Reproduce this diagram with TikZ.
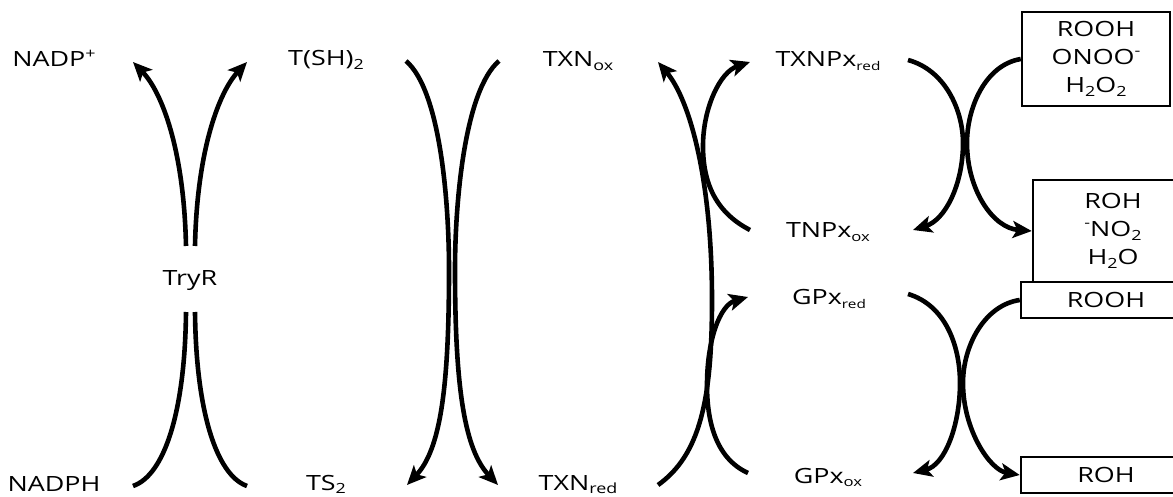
\documentclass[tikz,border=0pt]{standalone}
\usepackage{fontspec}
\setmainfont{Open Sans}[FakeStretch=1.28]
\usetikzlibrary{arrows.meta}
\newcommand\lo[2][14]{\raisebox{-0.18em}{\fontsize{#1}{#1}\selectfont #2}}
\newcommand\hi[1]{\raisebox{0.42em}{\fontsize{14}{14}\selectfont #1}}
\begin{document}
\begin{tikzpicture}[x=1pt,y=-1pt,
 lbl/.style={anchor=base, inner sep=0pt, font=\fontsize{21}{28}\selectfont},
 arr/.style={line width=4.6pt, -{Stealth[length=19pt,width=17pt,inset=4.5pt]}},
 strand/.style={line width=4.6pt},
 boxn/.style={draw, line width=2.5pt, inner sep=0pt, align=center, font=\fontsize{21}{28}\selectfont}]
\useasboundingbox (0,0) rectangle (1173,497);

% labels
\node[lbl] (nadpp) at (54,67) {NADP\hi{+}};
\node[lbl] (tsh) at (326,66) {T(SH)\lo{2}};
\node[lbl] (txnox) at (578,67) {TXN\lo{ox}};
\node[lbl] (txnpxred) at (828,67) {TXNPx\lo[12]{red}};
\node[lbl] (tnpxox) at (828,238) {TNPx\lo[13]{ox}};
\node[lbl] (gpxred) at (829,305) {GPx\lo[12]{red}};
\node[lbl] (gpxox) at (828,483) {GPx\lo[13]{ox}};
\node[lbl] (tryr) at (190,285) {TryR};
\node[lbl] (nadph) at (54,491) {NADPH};
\node[lbl] (ts2) at (326,490) {TS\lo{2}};
\node[lbl] (txnred) at (578,490) {TXN\lo{red}};

% boxes
\node[boxn, minimum width=148pt, minimum height=94pt] (box1) at (1096,59) {ROOH\\ONOO\hi{-}\\H\lo{2}O\lo{2}};
\node[boxn, minimum width=160pt, minimum height=102pt] (box2) at (1113,231) {ROH\\\hi{-}NO\lo{2}\\H\lo{2}O};
\node[boxn, minimum width=170pt, minimum height=36pt] (box3) at (1106,300) {ROOH};
\node[boxn, minimum width=170pt, minimum height=36pt] (box4) at (1106,475) {ROH};

% coordinates for curve ends
\coordinate (a1) at (186,246); \coordinate (a1t) at (133,62);
\coordinate (a2) at (195,246); \coordinate (a2t) at (247,62);
\coordinate (a3) at (186,312); \coordinate (a3t) at (133,486);
\coordinate (a4) at (195,312); \coordinate (a4t) at (247,486);
\coordinate (b1) at (406,61); \coordinate (b1t) at (407,485);
\coordinate (b2) at (499,61); \coordinate (b2t) at (498,485);
\coordinate (c1) at (658,485); \coordinate (c1t) at (658,62);
\coordinate (c2) at (750,230); \coordinate (c2t) at (750,62);
\coordinate (c3) at (748,473); \coordinate (c3t) at (748,297);
\coordinate (d1) at (908,60); \coordinate (d1t) at (913,230);
\coordinate (d2) at (908,294); \coordinate (d2t) at (913,473);

% TryR group
\draw[arr] (a1) .. controls (184,150) and (162,92) .. (a1t);
\draw[arr] (a2) .. controls (197,150) and (219,92) .. (a2t);
\draw[strand] (a3) .. controls (185,410) and (165,475) .. (a3t);
\draw[strand] (a4) .. controls (196,410) and (216,475) .. (a4t);

% T(SH)2 / TXN group
\draw[arr] (b1) .. controls (440,90) and (449,200) .. (449,270) .. controls (449,390) and (440,450) .. (b1t);
\draw[arr] (b2) .. controls (465,90) and (455,200) .. (455,270) .. controls (455,390) and (465,450) .. (b2t);

% TXN / peroxidase group
\draw[arr] (c1) .. controls (700,455) and (712,400) .. (712,300) .. controls (712,180) and (690,100) .. (c1t);
\draw[arr] (c2) .. controls (715,212) and (703,182) .. (703,146) .. controls (703,108) and (720,72) .. (c2t);
\draw[arr] (c3) .. controls (715,458) and (707,420) .. (707,385) .. controls (707,340) and (720,305) .. (c3t);

% substrate group
\draw[arr] (d1) .. controls (945,70) and (963,110) .. (963,143) .. controls (963,185) and (945,220) .. (d1t);
\draw[arr] (box1.west) .. controls (985,65) and (967,108) .. (967,143) .. controls (967,190) and (993,228) .. (box2.west);
\draw[arr] (d2) .. controls (945,305) and (960,345) .. (960,383) .. controls (960,425) and (945,465) .. (d2t);
\draw[arr] (box3.west) .. controls (985,305) and (963,345) .. (963,383) .. controls (963,430) and (990,470) .. (box4.west);
\end{tikzpicture}
\end{document}
